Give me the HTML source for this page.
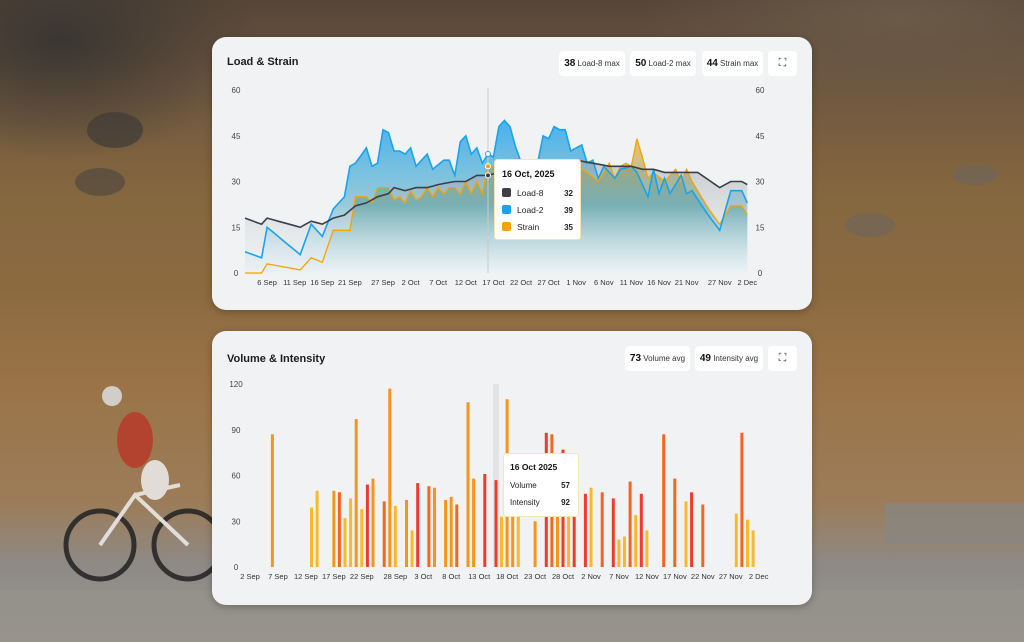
<!DOCTYPE html>
<html><head><meta charset="utf-8"><style>
html,body{margin:0;padding:0;width:1024px;height:642px;overflow:hidden;font-family:"Liberation Sans",sans-serif}
#bg{position:absolute;left:0;top:0;width:1024px;height:642px;
background:
radial-gradient(ellipse 200px 120px at 60px 40px,#3a3632 0%,rgba(58,54,50,0) 100%),
radial-gradient(ellipse 260px 90px at 900px 20px,#6b5a48 0%,rgba(107,90,72,0) 100%),
linear-gradient(180deg,#564638 0%,#6d5640 12%,#85673f 30%,#8c6a40 45%,#9a7448 60%,#9c7c58 78%,#8d8a86 88%,#9a968f 100%);}
.card{position:absolute;left:212px;width:600px;background:#f1f2f4;border-radius:14px;box-shadow:0 2px 8px rgba(0,0,0,.25)}
.title{position:absolute;left:15px;font-size:11px;font-weight:bold;color:#1c1c1c}
.chip{position:absolute;height:25px;background:#fff;border-radius:4px;font-size:8px;color:#333;line-height:25px;text-align:center;white-space:nowrap}
.chip b{font-size:10px;color:#111}
svg{position:absolute;left:0;top:0}
</style></head><body>
<div id="bg"></div>
<svg width="1024" height="642" style="position:absolute;left:0;top:0">
 <ellipse cx="115" cy="130" rx="28" ry="18" fill="#3e3a36" opacity=".7"/>
 <ellipse cx="100" cy="182" rx="25" ry="14" fill="#4a4540" opacity=".6"/>
 <ellipse cx="870" cy="225" rx="25" ry="12" fill="#6a665f" opacity=".6"/>
 <ellipse cx="975" cy="175" rx="22" ry="10" fill="#6a665f" opacity=".6"/>
 <rect x="885" y="503" width="139" height="40" fill="#8a8680" opacity=".8"/>
 <rect x="0" y="590" width="1024" height="52" fill="#96928c" opacity=".6"/>
 <g opacity=".85">
  <circle cx="100" cy="545" r="34" fill="none" stroke="#222" stroke-width="5"/>
  <circle cx="188" cy="545" r="34" fill="none" stroke="#222" stroke-width="5"/>
  <path d="M100 545 L135 495 L188 545 M135 495 L180 485" stroke="#eee" stroke-width="4" fill="none"/>
  <ellipse cx="135" cy="440" rx="18" ry="28" fill="#b83a2a"/>
  <ellipse cx="155" cy="480" rx="14" ry="20" fill="#eee"/>
  <circle cx="112" cy="396" r="10" fill="#ddd"/>
 </g>
</svg>

<div class="card" style="top:37px;height:273px">
 <div class="title" style="top:19px">Load &amp; Strain</div>
 <div class="chip" style="left:347px;top:14px;width:66px"><b>38</b> Load-8 max</div>
 <div class="chip" style="left:418px;top:14px;width:66px"><b>50</b> Load-2 max</div>
 <div class="chip" style="left:490px;top:14px;width:61px"><b>44</b> Strain max</div>
 <div class="chip" style="left:556px;top:14px;width:29px;font-size:11px">⛶</div>
</div>
<div class="card" style="top:331px;height:274px">
 <div class="title" style="top:22px">Volume &amp; Intensity</div>
 <div class="chip" style="left:413px;top:15px;width:65px"><b>73</b> Volume avg</div>
 <div class="chip" style="left:483px;top:15px;width:68px"><b>49</b> Intensity avg</div>
 <div class="chip" style="left:556px;top:15px;width:29px;font-size:11px">⛶</div>
</div>

<svg id="ch" width="1024" height="642" font-family="Liberation Sans, sans-serif">
 <defs>
  <linearGradient id="gb" x1="0" y1="0" x2="0" y2="1"><stop offset="0" stop-color="#28a6ee" stop-opacity=".85"/><stop offset=".55" stop-color="#5aaec8" stop-opacity=".6"/><stop offset="1" stop-color="#e6f4fb" stop-opacity=".3"/></linearGradient>
  <linearGradient id="gg" x1="0" y1="0" x2="0" y2="1"><stop offset="0" stop-color="#9aa0a4" stop-opacity=".5"/><stop offset="1" stop-color="#e6eef2" stop-opacity=".2"/></linearGradient>
  <linearGradient id="go" x1="0" y1="0" x2="0" y2="1"><stop offset="0" stop-color="#f5a623" stop-opacity=".7"/><stop offset=".5" stop-color="#4c9a9a" stop-opacity=".5"/><stop offset="1" stop-color="#e6f4fb" stop-opacity=".2"/></linearGradient>
 </defs>
 <g id="top"></g>
 <g id="bot"></g>
</svg>
<script>
function interp(k){var o=[];for(var d=0;d<=91;d++){var i=0;while(i<k.length-1&&k[i+1][0]<d)i++;var a=k[i],b=k[Math.min(i+1,k.length-1)];var v=(b[0]==a[0])?a[1]:a[1]+(b[1]-a[1])*(d-a[0])/(b[0]-a[0]);if(d<=k[0][0])v=k[0][1];if(d>=k[k.length-1][0])v=k[k.length-1][1];o.push(v)}return o}
var L2=interp([[0,7],[3,5],[4,15],[10,6],[12,16],[14,12],[16,21],[18,25],[19,35],[20,36],[22,41],[23,35],[24,36],[25,47],[26,46],[27,40],[28,40],[29,39],[30,41],[31,35],[33,39],[34,34],[36,37],[37,37],[38,32],[39,43],[40,45],[41,39],[42,41],[43,36],[44,39],[45,38],[46,48],[47,50],[48,48],[49.5,38],[51,33],[53,36],[54,45],[55,44],[56,48],[57,47],[58,47],[59,40],[61,42],[62,36],[63,37],[64,31],[65,35],[67,31],[68,34],[70,35],[71,33],[73,25],[74,34],[75,26],[76,31],[77,26],[79,32],[80,26],[81,27],[83.5,20],[86,14],[88,27],[90,27],[91,23]]);
var L8=interp([[0,18],[3,16],[4,18],[10,15],[12,17],[14,16],[16,18],[18,19],[20,22],[22,23],[24,25],[26,26],[27,28],[29,27],[31,28],[33,28],[35,29],[38,30],[40,30],[42,32],[44,32],[46,33],[50,34],[55,36],[60,37],[63,36],[66,35],[70,35],[72,34],[74,34],[76,33],[80,33],[82,33],[86,28],[88,30],[90,30],[91,29]]);
var ST=interp([[0,0],[3,0],[4,3],[10,1],[12,5],[14,3.5],[16,14],[18,14],[19,14],[20,25],[22,25],[23,23],[24,28],[26,28],[27,24],[28,25],[29,23],[30,27],[31,24],[32,25],[33,28],[34,25],[35,28],[36,26],[37,28],[38,28],[39,26],[40,30],[41,26],[42,30],[43,26],[44,35],[48,34],[52,36],[55,37],[58,33],[60,35],[62,33],[64,30],[66,36],[67,31],[68,35],[69,36],[70,35],[71,44],[72,38],[73,31],[74,33],[76,30],[78,34],[79,30],[80,34],[81,30],[84,21],[86,16],[88,22],[90,22],[91,19]]);
function X(d){return 245+d*5.52}function Y(v){return 273-v*3.05}
function pl(a){return a.map(function(v,d){return X(d).toFixed(1)+","+Y(v).toFixed(1)}).join(" ")}
function ar(a){return "M"+X(0)+",273 L"+pl(a)+" L"+X(91)+",273Z"}
var s='';
[60,45,30,15,0].forEach(function(v){s+='<text x="236" y="'+(Y(v)+3)+'" font-size="8" fill="#444" text-anchor="middle">'+v+'</text><text x="760" y="'+(Y(v)+3)+'" font-size="8" fill="#444" text-anchor="middle">'+v+'</text>'});
s+='<path d="'+ar(L2)+'" fill="url(#gb)"/><path d="'+ar(L8)+'" fill="url(#gg)"/><path d="'+ar(ST)+'" fill="url(#go)"/>';
s+='<line x1="488" y1="88" x2="488" y2="273" stroke="#c8cacc" stroke-width="1"/>';
s+='<polyline points="'+pl(ST)+'" fill="none" stroke="#f5a300" stroke-width="1.3"/>';
s+='<polyline points="'+pl(L2)+'" fill="none" stroke="#1aa3ec" stroke-width="1.6"/>';
s+='<polyline points="'+pl(L8)+'" fill="none" stroke="#3c4046" stroke-width="1.6"/>';
s+='<circle cx="488" cy="'+Y(39)+'" r="2.5" fill="#fff" stroke="#1aa3ec"/><circle cx="488" cy="'+Y(35)+'" r="2.5" fill="#f5a300" stroke="#fff"/><circle cx="488" cy="'+Y(32)+'" r="2.5" fill="#3c4046" stroke="#fff"/>';
var xl=[["6 Sep",4],["11 Sep",9],["16 Sep",14],["21 Sep",19],["27 Sep",25],["2 Oct",30],["7 Oct",35],["12 Oct",40],["17 Oct",45],["22 Oct",50],["27 Oct",55],["1 Nov",60],["6 Nov",65],["11 Nov",70],["16 Nov",75],["21 Nov",80],["27 Nov",86],["2 Dec",91]];
xl.forEach(function(l){s+='<text x="'+X(l[1])+'" y="285" font-size="7.5" fill="#333" text-anchor="middle">'+l[0]+'</text>'});
s+='<rect x="494.5" y="159.5" width="86" height="80" rx="3" fill="#fff" stroke="#f4e6b8"/>';
s+='<text x="502" y="177" font-size="9" font-weight="bold" fill="#111">16 Oct, 2025</text>';
[["Load-8","#3c4046",32,195],["Load-2","#1aa3ec",39,212],["Strain","#f5a300",35,229]].forEach(function(r){s+='<rect x="502" y="'+(r[3]-7)+'" width="9" height="9" rx="2" fill="'+r[1]+'"/><text x="517" y="'+(r[3]+1)+'" font-size="8.5" fill="#222">'+r[0]+'</text><text x="573" y="'+(r[3]+1)+'" font-size="8" font-weight="bold" fill="#222" text-anchor="end">'+r[2]+'</text>'});
document.getElementById('top').innerHTML=s;
function BX(d){return 250+d*5.59}function BY(v){return 567-v*1.525}
var O="#f7941d",Yl="#fbb829",R="#ef3b2c",RO="#f26522";
var bars=[[4,87,O],[11,39,Yl],[12,50,Yl],[15,50,O],[16,49,RO],[17,32,Yl],[18,45,Yl],[19,97,O],[20,38,Yl],[21,54,R],[22,58,O],[24,43,RO],[25,117,O],[26,40,Yl],[28,44,O],[29,24,Yl],[30,55,R],[32,53,RO],[33,52,O],[35,44,O],[36,46,O],[37,41,RO],[39,108,O],[40,58,O],[42,61,R],[44,57,R],[45,33,Yl],[46,110,O],[47,40,O],[48,33,Yl],[51,30,O],[53,88,R],[54,87,RO],[55,45,O],[56,77,R],[57,40,Yl],[58,50,R],[60,48,R],[61,52,Yl],[63,49,RO],[65,45,R],[66,18,Yl],[67,20,Yl],[68,56,RO],[69,34,Yl],[70,48,R],[71,24,Yl],[74,87,RO],[76,58,RO],[78,43,Yl],[79,49,R],[81,41,RO],[87,35,Yl],[88,88,RO],[89,31,Yl],[90,24,Yl]];
var b='';
[120,90,60,30,0].forEach(function(v){b+='<text x="236" y="'+(BY(v)+3)+'" font-size="8" fill="#444" text-anchor="middle">'+v+'</text>'});
b+='<rect x="493" y="384" width="6" height="183" fill="#e2e3e5"/>';
bars.forEach(function(r){b+='<rect x="'+(BX(r[0])-1.5).toFixed(1)+'" y="'+BY(r[1]).toFixed(1)+'" width="3" height="'+(r[1]*1.525).toFixed(1)+'" fill="'+r[2]+'"/>'});
[["2 Sep",0],["7 Sep",5],["12 Sep",10],["17 Sep",15],["22 Sep",20],["28 Sep",26],["3 Oct",31],["8 Oct",36],["13 Oct",41],["18 Oct",46],["23 Oct",51],["28 Oct",56],["2 Nov",61],["7 Nov",66],["12 Nov",71],["17 Nov",76],["22 Nov",81],["27 Nov",86],["2 Dec",91]].forEach(function(l){b+='<text x="'+BX(l[1])+'" y="579" font-size="7.5" fill="#333" text-anchor="middle">'+l[0]+'</text>'});
b+='<rect x="503.5" y="453.5" width="75" height="63" rx="3" fill="#fff" stroke="#f4e6b8"/>';
b+='<text x="510" y="470" font-size="8.5" font-weight="bold" fill="#111">16 Oct 2025</text>';
b+='<text x="510" y="488" font-size="8" fill="#222">Volume</text><text x="570" y="488" font-size="8" font-weight="bold" fill="#222" text-anchor="end">57</text>';
b+='<text x="510" y="505" font-size="8" fill="#222">Intensity</text><text x="570" y="505" font-size="8" font-weight="bold" fill="#222" text-anchor="end">92</text>';
document.getElementById('bot').innerHTML=b;
</script>
</body></html>
